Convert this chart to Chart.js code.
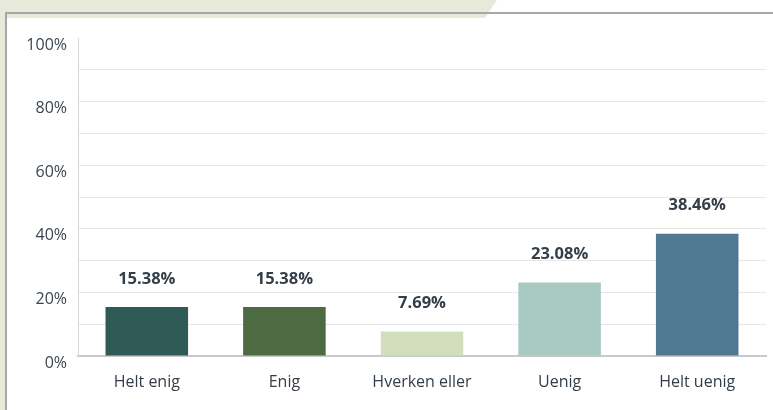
<!DOCTYPE html>
<html>
<head>
<meta charset="utf-8">
<script src="https://cdn.jsdelivr.net/npm/chart.js@4"></script>
<style>
  html, body { margin: 0; padding: 0; background: #fff; }
  body { width: 773px; height: 410px; position: relative; overflow: hidden; }
  .band { position: absolute; left: 0; top: 0; width: 497px; height: 18px; background: #e7eadb;
          clip-path: polygon(0 0, 497px 0, 485px 18px, 0 18px); }
  .strip { position: absolute; left: 0; top: 0; width: 5px; height: 410px; background: #e7eadb; }
  .topline { position: absolute; left: 5px; top: 12px; width: 768px; height: 2px; background: #a7a7a7; }
  .leftline { position: absolute; left: 5px; top: 12px; width: 2px; height: 398px; background: #a7a7a7; }
  canvas { position: absolute; left: 0; top: 0; }
</style>
</head>
<body>
<div class="band"></div>
<div class="strip"></div>
<div class="topline"></div>
<div class="leftline"></div>
<canvas id="chart" width="773" height="410"></canvas>
<script>
const categories = ['Helt enig', 'Enig', 'Hverken eller', 'Uenig', 'Helt uenig'];
const percentages = [15.38, 15.38, 7.69, 23.08, 38.46];
const barColors = ['#2f5a55', '#4e6a42', '#d1dfbd', '#a9c9c3', '#517891'];
const tickLabels = ['0%', '20%', '40%', '60%', '80%', '100%'];

const FONT = '"Open Sans", "DejaVu Sans", sans-serif';

// draw the value above each bar
const valueLabels = {
  id: 'valueLabels',
  afterDatasetsDraw(chart) {
    const ctx = chart.ctx;
    const meta = chart.getDatasetMeta(0);
    ctx.save();
    ctx.font = 'bold 16.5px ' + FONT;
    ctx.fillStyle = '#333e48';
    ctx.textAlign = 'center';
    ctx.textBaseline = 'middle';
    meta.data.forEach((bar, i) => {
      ctx.fillText(percentages[i].toFixed(2) + '%', bar.x, bar.y - 28);
    });
    ctx.restore();
  }
};

new Chart(document.getElementById('chart').getContext('2d'), {
  type: 'bar',
  data: {
    labels: categories,
    datasets: [{
      data: percentages,
      backgroundColor: barColors,
      barPercentage: 0.6,
      categoryPercentage: 1
    }]
  },
  options: {
    responsive: false,
    animation: false,
    layout: { padding: { top: 38, right: 7, left: 0, bottom: 0 } },
    plugins: {
      legend: { display: false },
      tooltip: { enabled: false }
    },
    scales: {
      x: {
        grid: { display: false, drawTicks: false },
        border: { color: '#c9c9c9', width: 2 },
        ticks: {
          color: '#333e48',
          font: { family: FONT, size: 16 },
          padding: 17
        },
        afterFit(scale) { scale.height = 54; }
      },
      y: {
        min: 0,
        max: 100,
        grid: {
          drawTicks: false,
          color: c => (c.tick.value === 0 || c.tick.value === 100) ? 'rgba(0,0,0,0)' : '#e6e6e6'
        },
        border: { color: '#d6d6d6', width: 1 },
        ticks: {
          stepSize: 10,
          color: '#3b4650',
          font: { family: FONT, size: 16 },
          padding: 11,
          labelOffset: 7,
          callback: v => v % 20 === 0 ? tickLabels[v / 20] : ''
        },
        afterFit(scale) { scale.width = 78; }
      }
    }
  },
  plugins: [valueLabels]
});
</script>
</body>
</html>
